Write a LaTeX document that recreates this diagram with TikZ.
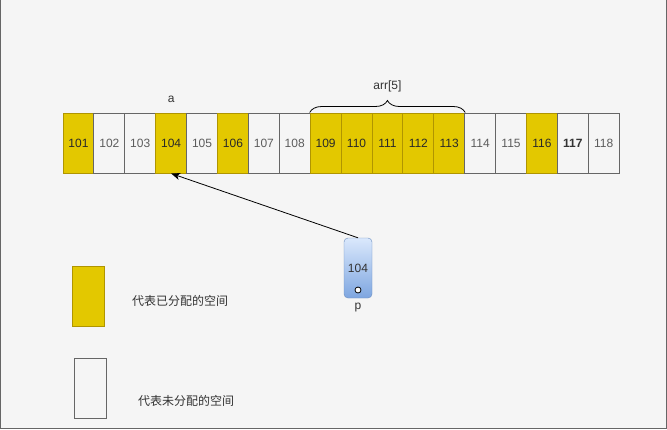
\documentclass[tikz,border=0pt]{standalone}
\usepackage{fontspec}
\setmainfont{Liberation Sans}
\newfontfamily\cjkfont{Noto Sans CJK SC}
\usetikzlibrary{arrows.meta,calc,decorations.pathreplacing,positioning}
\definecolor{bgcolor}{HTML}{F5F5F5}
\definecolor{framecolor}{HTML}{666666}
\definecolor{usedfill}{HTML}{E3C800}
\definecolor{useddraw}{HTML}{B09500}
\definecolor{freedraw}{HTML}{666666}
\definecolor{textcolor}{HTML}{333333}
\definecolor{ptrtop}{HTML}{DAE8FC}
\definecolor{ptrbottom}{HTML}{7EA6E0}
\definecolor{ptrdraw}{HTML}{6C8EBF}

\begin{document}
\begin{tikzpicture}[x=1pt,y=-1pt]
  %%Styles for the memory cells, the pointer and the arrow
  \tikzset{used cell/.style={draw=useddraw,fill=usedfill,line width=1pt,minimum width=30.9pt,minimum height=60pt,inner sep=0pt,text=textcolor!80!black,font=\fontsize{12}{14}\selectfont}}
  \tikzset{free cell/.style={draw=freedraw,fill=bgcolor,line width=1pt,minimum width=30.9pt,minimum height=60pt,inner sep=0pt,text=textcolor!80,font=\fontsize{12}{14}\selectfont}}
  \tikzset{bold cell/.style={free cell,text=textcolor,font=\fontsize{12}{14}\selectfont\bfseries}}
  \tikzset{pointer box/.style={draw=ptrdraw,rounded corners=4pt,top color=ptrtop,bottom color=ptrbottom,minimum width=28pt,minimum height=60pt,inner sep=0pt,text=textcolor,font=\fontsize{12}{14}\selectfont}}
  \tikzset{ptr arrow/.style={draw,-{Stealth[length=9pt,width=7pt,inset=2.5pt]},line width=0.8pt,color=black}}
  \tikzset{plain label/.style={text=textcolor,font=\fontsize{12}{14}\selectfont}}
  %%Background and frame
  \fill[bgcolor] (0,0) rectangle (667,429);
  \useasboundingbox (0,0) rectangle (667,429);
  \draw[framecolor,line width=1pt] (0.5,0) -- (0.5,428.5) -- (666.5,428.5) -- (666.5,0);
  %%Place the memory cells using the foreach construct
  \foreach \n/\sty [count=\i from 0] in {101/used cell,102/free cell,103/free cell,104/used cell,105/free cell,106/used cell,107/free cell,108/free cell,109/used cell,110/used cell,111/used cell,112/used cell,113/used cell,114/free cell,115/free cell,116/used cell,117/bold cell,118/free cell}{
    \node[\sty] (c\n) at ({78.45+30.9*\i},143) {\n};
  }
  %%Labels above the cells
  \node[plain label,above=6pt of c104] (alabel) {a};
  \draw[decorate,decoration={brace,amplitude=12pt},line width=0.8pt] (c109.north west) -- (c113.north east);
  \node[plain label] (arrlabel) at ($(c109.north west)!.5!(c113.north east)+(0,-26)$) {arr[5]};
  %%The pointer p
  \node[pointer box] (p) at (358,268) {104};
  \node[circle,draw=black,fill=white,line width=0.8pt,inner sep=0pt,minimum size=6pt] (pdot) at (358,290) {};
  \node[plain label,below=1pt of p] (plabel) {p};
  \path[ptr arrow] (p.north) -- (c104.south);
  %%Legend
  \node[used cell,minimum width=32pt] (usedkey) at (88,296) {};
  \node[plain label] (usedtext) at (180,301) {\cjkfont 代表已分配的空间};
  \node[free cell,minimum width=32pt] (freekey) at (90,388) {};
  \node[plain label] (freetext) at (186,401) {\cjkfont 代表未分配的空间};
\end{tikzpicture}
\end{document}
